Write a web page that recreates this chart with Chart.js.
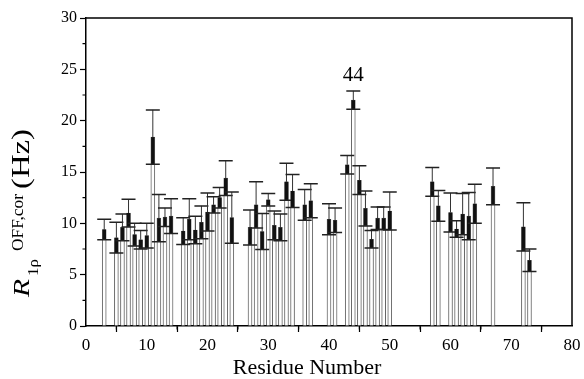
<!DOCTYPE html>
<html>
<head>
<meta charset="utf-8">
<script src="https://cdn.jsdelivr.net/npm/chart.js@4.4.1/dist/chart.umd.min.js"></script>
<style>
  html, body { margin: 0; padding: 0; background: #fff; }
</style>
</head>
<body>
<canvas id="chart" width="584" height="379"></canvas>
<script>
const residues = [3, 5, 6, 7, 8, 9, 10, 11, 12, 13, 14, 16, 17, 18, 19, 20, 21, 22, 23, 24,
  27, 28, 29, 30, 31, 32, 33, 34, 36, 37, 40, 41, 43, 44, 45, 46, 47, 48, 49, 50,
  57, 58, 60, 61, 62, 63, 64, 67, 72, 73];
const rates = [9.4, 8.6, 9.6, 11.0, 8.9, 8.4, 8.8, 18.4, 10.5, 10.6, 10.7, 9.25, 10.4, 9.35, 10.1, 11.1, 11.8, 12.5, 14.4, 10.55,
  9.6, 11.8, 9.2, 12.3, 9.8, 9.6, 14.05, 13.15, 11.8, 12.2, 10.4, 10.3, 15.7, 22.0, 14.2, 11.45, 8.45, 10.5, 10.5, 11.2,
  14.05, 11.7, 11.05, 9.45, 10.9, 10.7, 11.9, 13.6, 9.65, 6.4];
const errors = [1.0, 1.5, 1.3, 1.35, 1.1, 0.9, 1.2, 2.65, 2.3, 0.9, 1.7, 1.3, 2.0, 1.35, 1.6, 1.85, 0.8, 1.0, 1.7, 2.5,
  1.7, 2.25, 1.75, 0.6, 1.4, 1.3, 1.8, 1.6, 1.5, 1.65, 1.5, 1.2, 0.9, 0.9, 1.4, 1.7, 0.85, 1.1, 1.1, 1.85,
  1.4, 1.5, 1.9, 0.8, 2.0, 2.3, 1.9, 1.8, 2.35, 1.1];
const labelResidue = 44;
const xTitle = "Residue Number";

const serif = "'Liberation Serif', 'DejaVu Serif', serif";

// error bars: thin line above the bar top, dark block down to the lower cap
const errorBars = {
  id: "errorBars",
  afterDatasetsDraw(chart) {
    const ctx = chart.ctx;
    const y = chart.scales.y;
    const meta = chart.getDatasetMeta(0);
    ctx.save();
    meta.data.forEach((bar, i) => {
      const top = y.getPixelForValue(rates[i] + errors[i]);
      const mid = y.getPixelForValue(rates[i]);
      const bot = y.getPixelForValue(rates[i] - errors[i]);
      ctx.strokeStyle = "#333";
      ctx.lineWidth = 1;
      ctx.beginPath();
      ctx.moveTo(bar.x, top);
      ctx.lineTo(bar.x, mid);
      ctx.stroke();
      ctx.strokeStyle = "#111";
      ctx.lineWidth = 3.5;
      ctx.beginPath();
      ctx.moveTo(bar.x, mid);
      ctx.lineTo(bar.x, bot);
      ctx.stroke();
      ctx.strokeStyle = "#222";
      ctx.lineWidth = 1.5;
      ctx.beginPath();
      ctx.moveTo(bar.x - 7, top);
      ctx.lineTo(bar.x + 7, top);
      ctx.moveTo(bar.x - 7, bot);
      ctx.lineTo(bar.x + 7, bot);
      ctx.stroke();
    });
    ctx.restore();
  },
};

// text piece squeezed/stretched to a given length along the baseline
function fitText(ctx, text, x, y, len) {
  const w = ctx.measureText(text).width;
  ctx.save();
  ctx.translate(x, y);
  ctx.scale(len / w, 1);
  ctx.fillText(text, 0, 0);
  ctx.restore();
}

// frame, minor ticks, titles and the "44" note
const decor = {
  id: "decor",
  afterDraw(chart) {
    const ctx = chart.ctx;
    const { left, right, top, bottom } = chart.chartArea;
    const x = chart.scales.x;
    const y = chart.scales.y;
    ctx.save();
    ctx.strokeStyle = "#000";
    ctx.lineWidth = 1.5;
    ctx.beginPath();
    ctx.moveTo(left, top);
    ctx.lineTo(right, top);
    ctx.lineTo(right, bottom);
    ctx.stroke();

    ctx.lineWidth = 1.2;
    ctx.beginPath();
    for (let v = 5; v < x.max; v += 10) {
      const px = x.getPixelForValue(v);
      ctx.moveTo(px, bottom);
      ctx.lineTo(px, bottom + 3.5);
    }
    for (let v = 2.5; v < y.max; v += 5) {
      const py = y.getPixelForValue(v);
      ctx.moveTo(left, py);
      ctx.lineTo(left - 3.5, py);
    }
    ctx.stroke();

    ctx.fillStyle = "#000";
    ctx.textAlign = "center";
    ctx.textBaseline = "alphabetic";
    ctx.font = "22px " + serif;
    ctx.fillText(xTitle, 307, 374);

    const i = residues.indexOf(labelResidue);
    ctx.font = "21px " + serif;
    ctx.fillText(String(labelResidue), x.getPixelForValue(labelResidue), y.getPixelForValue(rates[i] + errors[i]) - 10);

    // R_{1rho}^{OFF,cor} (Hz), rotated
    ctx.translate(29, 297);
    ctx.rotate(-Math.PI / 2);
    ctx.textAlign = "left";
    ctx.font = "italic 24px " + serif;
    fitText(ctx, "R", 0, 0, 18);
    ctx.font = "15px " + serif;
    fitText(ctx, "1ρ", 21, 9, 17);
    ctx.font = "16px " + serif;
    fitText(ctx, "OFF,cor", 46, -6, 57);
    ctx.font = "25px " + serif;
    fitText(ctx, "(Hz)", 108, 0, 60);
    ctx.restore();
  },
};

new Chart(document.getElementById("chart"), {
  type: "bar",
  data: {
    datasets: [
      {
        data: residues.map((r, i) => ({ x: r, y: rates[i] })),
        backgroundColor: "#fff",
        borderColor: "#666",
        borderWidth: 1,
        barThickness: 4,
      },
    ],
  },
  options: {
    responsive: false,
    animation: false,
    devicePixelRatio: 1,
    layout: { padding: { left: 0, right: 12, top: 18, bottom: 0 } },
    plugins: { legend: { display: false }, tooltip: { enabled: false } },
    scales: {
      x: {
        type: "linear",
        min: 0,
        max: 80,
        offset: false,
        afterFit: (s) => { s.height = 53; },
        ticks: { stepSize: 10, color: "#000", font: { family: serif, size: 17 }, padding: 3, maxRotation: 0 },
        grid: { drawOnChartArea: false, drawTicks: true, tickLength: 6, color: "#000", tickWidth: 1.2 },
        border: { display: true, color: "#000", width: 1.5 },
      },
      y: {
        min: 0,
        max: 30,
        afterFit: (s) => { s.width = 86; },
        ticks: { stepSize: 5, color: "#000", font: { family: serif, size: 16 }, padding: 3 },
        grid: { drawOnChartArea: false, drawTicks: true, tickLength: 6, color: "#000", tickWidth: 1.2 },
        border: { display: true, color: "#000", width: 1.5 },
      },
    },
  },
  plugins: [errorBars, decor],
});
</script>
</body>
</html>
